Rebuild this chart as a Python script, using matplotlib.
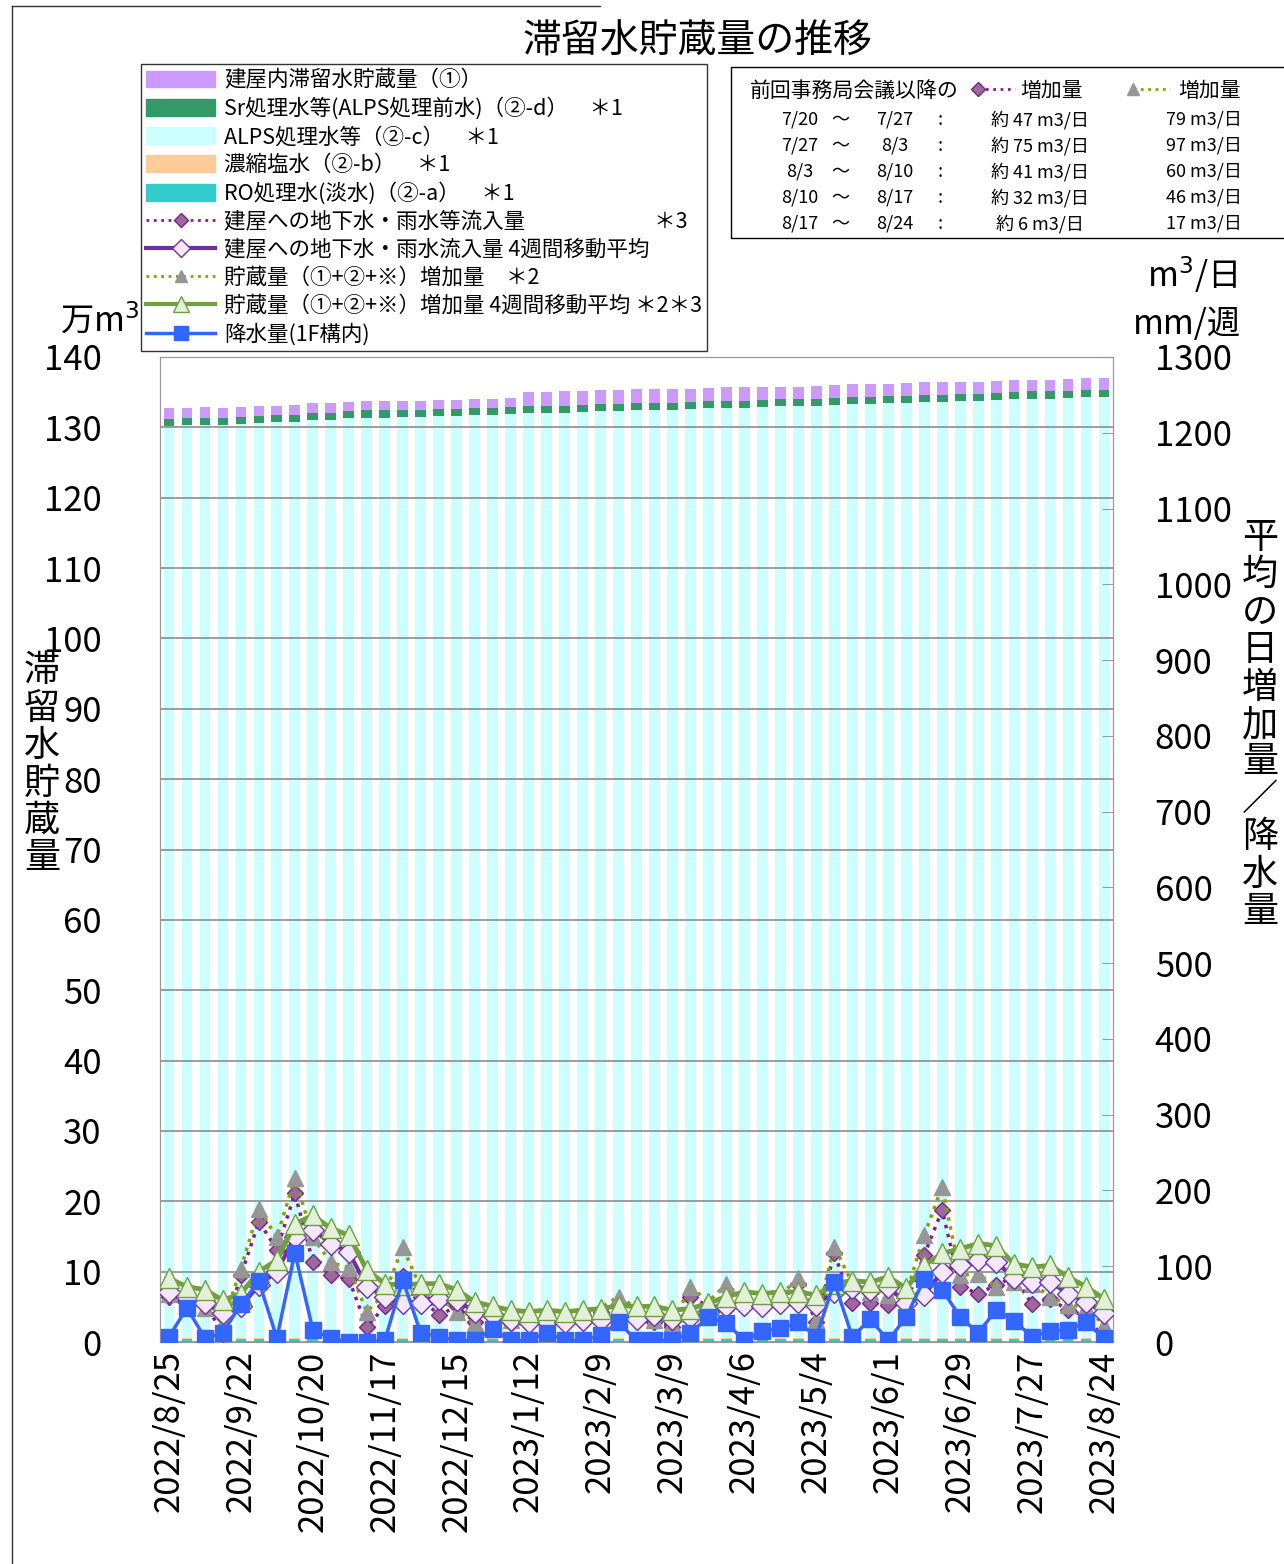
import matplotlib
matplotlib.use("Agg")
import matplotlib.pyplot as plt
from matplotlib.lines import Line2D
from matplotlib.patches import Patch, Rectangle
import numpy as np
import datetime as dt

plt.rcParams['font.family'] = ['Noto Sans CJK JP', 'DejaVu Sans']

start = dt.date(2022, 8, 25)
dates = [start + dt.timedelta(weeks=i) for i in range(53)]
labels = [f"{d.year}/{d.month}/{d.day}" for d in dates]

# stacked storage (万m3)
ro = [0.4]*53
salt = [0.1]*53
alps = [130.2,130.3,130.4,130.4,130.5,130.6,130.7,130.8,131.0,131.1,131.3,131.4,131.4,131.5,131.5,131.6,131.6,131.7,131.8,131.9,
        132.0,132.0,132.1,132.2,132.3,132.3,132.4,132.5,132.5,132.6,132.7,132.8,132.8,132.9,133.0,133.0,133.1,133.2,133.3,133.3,
        133.4,133.5,133.6,133.6,133.7,133.8,133.9,134.0,134.1,134.1,134.2,134.3,134.3]
alps = [a - 0.5 for a in alps]
sr = [1.0]*53
bld = [1.5,1.5,1.5,1.4,1.4,1.4,1.4,1.4,1.4,1.4,1.3,1.3,1.3,1.3,1.3,1.3,1.3,1.3,1.3,1.3,
       2.0,2.0,2.0,2.0,2.0,2.0,2.0,1.9,1.9,1.9,1.9,1.9,1.9,1.9,1.8,1.8,1.8,1.8,1.8,1.8,
       1.8,1.8,1.8,1.8,1.8,1.7,1.7,1.7,1.7,1.7,1.7,1.7,1.7]

# lines (m3/day, mm/week)
inflow = [60,47,51,11,88,159,122,196,106,89,83,20,47,87,60,35,47,26,40,25,30,35,30,35,40,50,40,
          27,20,60,47,44,47,47,55,77,27,117,51,51,49,51,115,174,73,64,75,86,50,57,42,35,5]
inflow_ma = [66,60,51,38,47,75,93,139,148,130,119,73,60,51,51,57,55,40,35,29,27,28,27,29,29,33,31,
             35,31,33,40,47,49,47,51,53,49,66,71,69,73,51,62,93,101,108,106,84,79,79,64,53,38]
storage = [64,55,45,25,97,176,138,217,138,105,98,40,64,125,71,60,40,25,45,29,35,40,35,40,45,60,45,
           29,25,73,53,77,55,55,62,84,29,126,77,66,62,64,141,205,88,90,73,79,77,60,49,46,22]
storage_ma = [84,73,69,55,64,93,108,156,167,150,141,95,77,75,77,77,69,53,47,42,40,42,40,42,44,48,47,
              47,42,44,51,60,66,64,66,66,62,77,81,79,86,71,101,117,123,130,127,103,99,101,86,73,57]
rain = [7,45,5,12,50,80,5,118,16,5,0,0,2,82,12,7,2,2,17,2,2,12,2,2,9,26,2,
        2,2,12,33,25,2,14,18,26,7,79,7,30,2,33,83,69,33,12,42,28,7,14,16,26,5]

fig = plt.figure(figsize=(12.84, 15.64), dpi=100)
ax = fig.add_axes([160/1284, 1-1342/1564, 953/1284, 985/1564])
x = np.arange(53)
w = 0.6
b = np.zeros(53)
for vals, col in [(ro, '#33CCCC'), (salt, '#FFCC99'), (alps, '#CCFFFF'), (sr, '#339966'), (bld, '#CC99FF')]:
    ax.bar(x, vals, w, bottom=b, color=col, zorder=2)
    b = b + np.array(vals)
ax.set_ylim(0, 140)
ax.set_xlim(-0.5, 52.5)
ax.set_yticks(range(0, 141, 10))
ax.set_axisbelow(False)
ax.yaxis.grid(True, color='#8c8c8c', lw=1.2, zorder=3)
ax.tick_params(axis='y', labelsize=25, length=0, pad=42)
ax.tick_params(axis='x', length=0, pad=6)
ax.set_xticks(x[::4])
ax.set_xticklabels(labels[::4], rotation=90, fontsize=25)
for s in ax.spines.values():
    s.set_color('#999999')

ax2 = ax.twinx()
ax2.set_ylim(0, 1300)
ax2.set_yticks(range(0, 1301, 100))
ax2.tick_params(axis='y', labelsize=25, direction='in', length=8, color='#999999', pad=30)
for s in ax2.spines.values():
    s.set_color('#999999')
ax2.plot(x, inflow, ':', color='#7F1F8F', lw=2.5, marker='D', ms=8, mfc='#9A6A9A', mec='#7F1F8F', zorder=4)
ax2.plot(x, storage, ':', color='#7FA600', lw=2.5, marker='^', ms=11, mfc='#969696', mec='#969696', zorder=4)
ax2.plot(x, inflow_ma, '-', color='#7030A0', lw=3, marker='D', ms=11, mfc='#F3E8FF', mec='#7030A0', mew=1, zorder=5)
ax2.plot(x, storage_ma, '-', color='#70A040', lw=3.5, marker='^', ms=14, mfc='#E2F0D9', mec='#70A040', mew=1, zorder=5)
ax2.plot(x, rain, '-', color='#3366FF', lw=2.5, marker='s', ms=12, mfc='#3366FF', mec='#3366FF', zorder=6)

fig.text(522/1284, 1-42/1564, '滞留水貯蔵量の推移', fontsize=28, ha='left', va='center')
fig.text(100/1284, 1-322/1564, '万m$^3$', fontsize=24, ha='center', va='center')
fig.text(1192/1284, 1-275/1564, 'm$^3$/日', fontsize=24, ha='center', va='center')
fig.text(1187/1284, 1-325/1564, 'mm/週', fontsize=24, ha='center', va='center')
fig.text(42/1284, 1-765/1564, '\n'.join('滞留水貯蔵量'), fontsize=26, ha='center', va='center', linespacing=1.05)
fig.text(1260/1284, 1-725/1564, '\n'.join('平均の日増加量／降水量'), fontsize=26, ha='center', va='center', linespacing=1.05)
fig.add_artist(Line2D([12/1284, 12/1284], [0, 1-6/1564], color='#333333', lw=1))
fig.add_artist(Line2D([12/1284, 600/1284], [1-6/1564, 1-6/1564], color='#333333', lw=1))

handles = [Patch(color='#CC99FF'), Patch(color='#339966'), Patch(color='#CCFFFF'), Patch(color='#FFCC99'), Patch(color='#33CCCC'),
           Line2D([], [], ls=':', color='#7F1F8F', lw=2, marker='D', ms=7, mfc='#9A6A9A'),
           Line2D([], [], ls='-', color='#7030A0', lw=3, marker='D', ms=9, mfc='#F3E8FF'),
           Line2D([], [], ls=':', color='#7FA600', lw=2, marker='^', ms=9, mfc='#969696', mec='#969696'),
           Line2D([], [], ls='-', color='#70A040', lw=3, marker='^', ms=11, mfc='#E2F0D9'),
           Line2D([], [], ls='-', color='#3366FF', lw=2.5, marker='s', ms=10, mfc='#3366FF')]
leg_labels = ['建屋内滞留水貯蔵量（①）', 'Sr処理水等(ALPS処理前水)（②-d）　＊1', 'ALPS処理水等（②-c）　＊1',
              '濃縮塩水（②-b）　＊1', 'RO処理水(淡水)（②-a）　＊1', '建屋への地下水・雨水等流入量　　　　　　＊3',
              '建屋への地下水・雨水流入量 4週間移動平均', '貯蔵量（①+②+※）増加量　＊2',
              '貯蔵量（①+②+※）増加量 4週間移動平均 ＊2＊3', '降水量(1F構内)']
leg = fig.legend(handles, leg_labels, loc='upper left', bbox_to_anchor=(141/1284, 1-64/1564), fontsize=15.5,
                 frameon=True, fancybox=False, edgecolor='black', handlelength=3.2, labelspacing=0.28,
                 borderpad=0.25, handleheight=0.8, handletextpad=0.4, borderaxespad=0)
leg.get_frame().set_linewidth(1)

fig.add_artist(Rectangle((731/1284, 1-238/1564), 560/1284, 171/1564, transform=fig.transFigure, fill=False, ec='black', lw=1))
fig.text(750/1284, 1-91/1564, '前回事務局会議以降の', fontsize=15, va='center')
fig.add_artist(Line2D([978/1284, 1015/1284], [1-89/1564]*2, ls=':', color='#7F1F8F', lw=2, marker='D', ms=7, mfc='#9A6A9A', markevery=[0]))
fig.text(1020/1284, 1-91/1564, '増加量', fontsize=15, va='center')
fig.add_artist(Line2D([1133/1284, 1170/1284], [1-89/1564]*2, ls=':', color='#7FA600', lw=2, marker='^', ms=9, mfc='#969696', mec='#969696', markevery=[0]))
fig.text(1178/1284, 1-91/1564, '増加量', fontsize=15, va='center')
p_from = ['7/20', '7/27', '8/3', '8/10', '8/17']
p_to = ['7/27', '8/3', '8/10', '8/17', '8/24']
inc1 = [47, 75, 41, 32, 6]
inc2 = [79, 97, 60, 46, 17]
for k in range(5):
    yy = 1 - (120 + 26*k)/1564
    fig.text(800/1284, yy, p_from[k], fontsize=13, va='center', ha='center')
    fig.text(840/1284, yy, '～', fontsize=13, va='center', ha='center')
    fig.text(895/1284, yy, p_to[k], fontsize=13, va='center', ha='center')
    fig.text(940/1284, yy, ':', fontsize=13, va='center', ha='center')
    fig.text(1040/1284, yy, f'約 {inc1[k]} m3/日', fontsize=13, va='center', ha='center')
    fig.text(1242/1284, yy, f'{inc2[k]} m3/日', fontsize=13, va='center', ha='right')

fig.savefig('out.png', dpi=100)
